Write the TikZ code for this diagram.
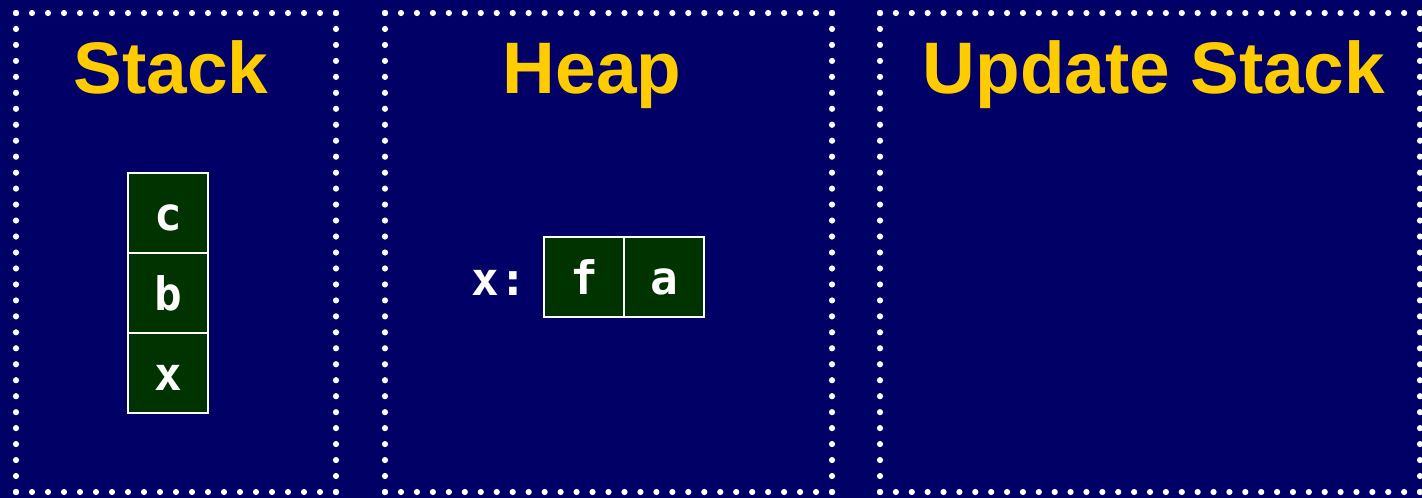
\documentclass[tikz,border=0pt]{standalone}
\usepackage{fontspec}
\usetikzlibrary{calc}
\setmainfont{Liberation Sans}
\newfontfamily\boxfont{DejaVu Sans Mono Bold}
\definecolor{bgblue}{HTML}{000066}
\definecolor{titleyellow}{HTML}{FFCC00}
\definecolor{cellgreen}{HTML}{003300}
\newcommand{\dotside}[3]{% from, to, n
  \foreach \i in {0,...,#3} {\fill[dotfill] ($#1!{\i/#3}!#2$) circle (3.1pt);}}
\newcommand{\dotpanel}[6]{% x1 y1 x2 y2 nx ny
  \dotside{(#1,#2)}{(#3,#2)}{#5}
  \dotside{(#1,#4)}{(#3,#4)}{#5}
  \dotside{(#1,#2)}{(#1,#4)}{#6}
  \dotside{(#3,#2)}{(#3,#4)}{#6}}
\begin{document}
\begin{tikzpicture}[x=1pt,y=-1pt,
  dotfill/.style={fill=white},
  title/.style={text=titleyellow,font=\fontsize{73}{73}\selectfont\bfseries,anchor=base,inner sep=0pt},
  cell/.style={draw=white,line width=1.5pt,fill=cellgreen,minimum width=80pt,minimum height=80pt,inner sep=0pt,text height=35pt,text depth=0pt,text=white,font=\boxfont\fontsize{46}{46}\selectfont},
  label/.style={text=white,font=\boxfont\fontsize{46}{46}\selectfont,inner sep=0pt}]
\fill[bgblue] (0,0) rectangle (1422,498);
\useasboundingbox (0,0) rectangle (1422,498);
% panels
\dotpanel{16}{13}{336}{492}{20}{30}
\dotpanel{385}{13}{832}{492}{28}{30}
\dotpanel{880}{13}{1420}{492}{34}{30}
% titles
\node[title] (tstack) at (171,93) {Stack};
\node[title] (theap) at (592,93) {Heap};
\node[title] (tupd) at (1154,93) {Update Stack};
% stack cells
\node[cell] (sc) at (168,213) {c};
\node[cell] (sb) at (168,293) {b};
\node[cell] (sx) at (168,373) {x};
% heap
\node[cell] (hf) at (584,277) {f};
\node[cell] (ha) at (664,277) {a};
\node[label,anchor=base east] (hx) at (527,295) {x:};
\end{tikzpicture}
\end{document}
